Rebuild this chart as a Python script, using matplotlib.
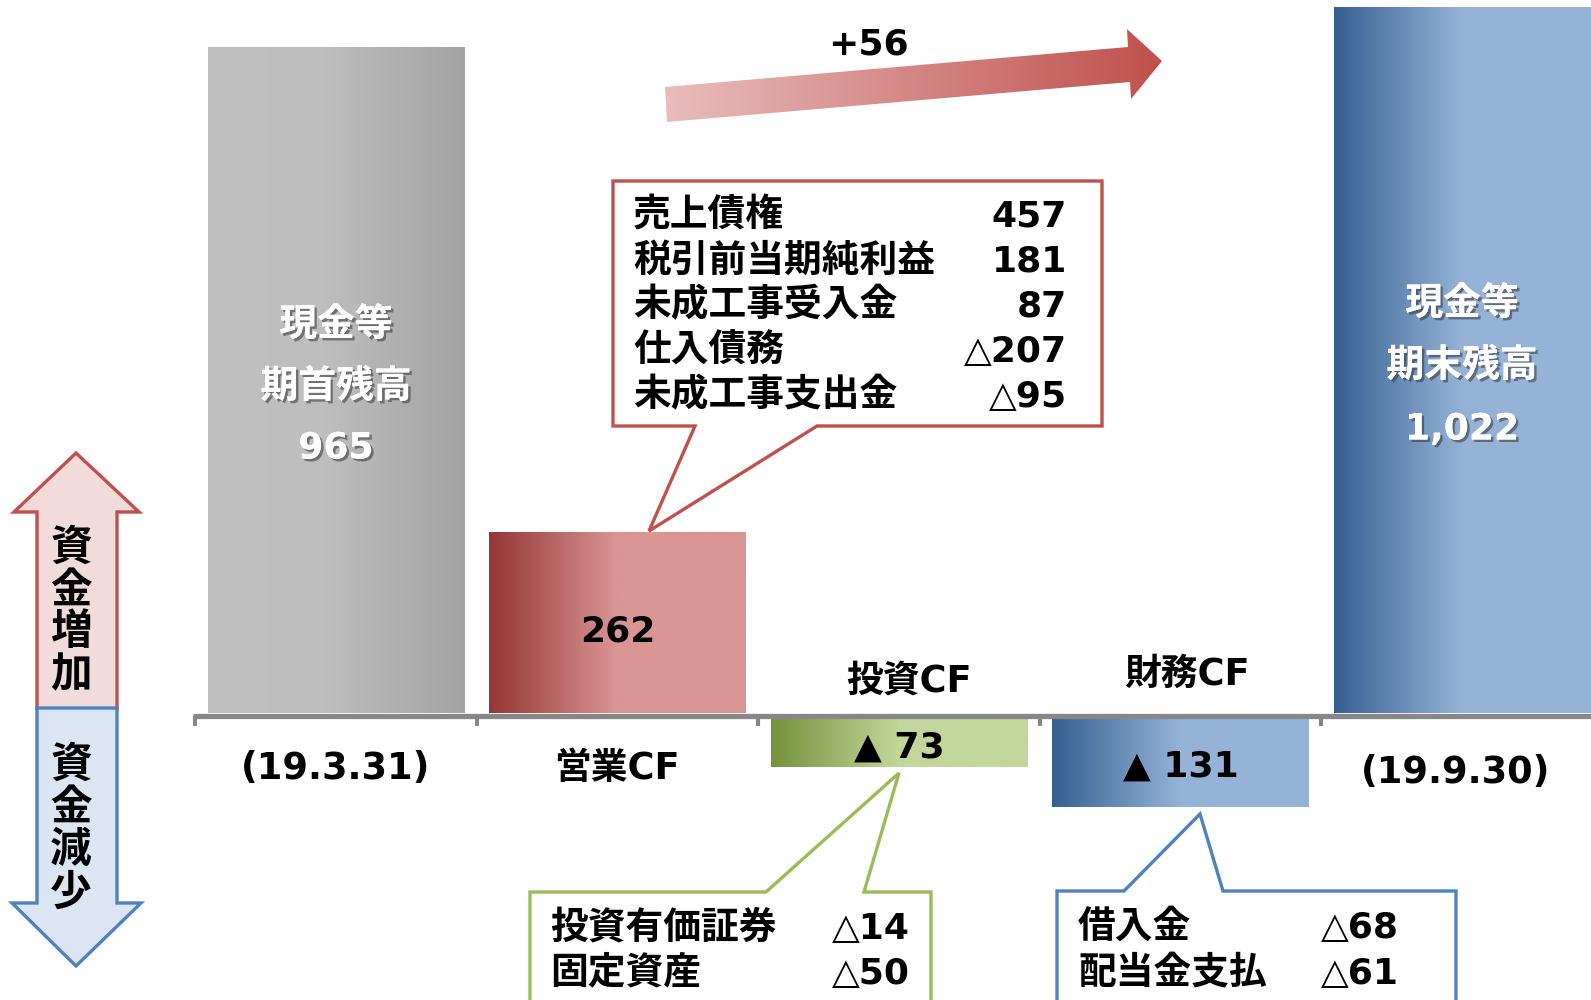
import matplotlib
matplotlib.use('Agg')
import matplotlib.pyplot as plt
import numpy as np
from matplotlib.patches import Polygon
from matplotlib.colors import LinearSegmentedColormap
import matplotlib.patheffects as pe

plt.rcParams['font.family'] = ['DejaVu Sans', 'Noto Sans CJK JP']

# ---------------- data ----------------
categories = ['(19.3.31)', '営業CF', '投資CF', '財務CF', '(19.9.30)']
values = [965, 262, -73, -131, 1022]
start_label = ['現金等', '期首残高', '965']
end_label = ['現金等', '期末残高', '1,022']
flow_labels = ['262', '▲ 73', '▲ 131']
change_label = '+56'

op_items = ['売上債権', '税引前当期純利益', '未成工事受入金', '仕入債務', '未成工事支出金']
op_vals = [457, 181, 87, -207, -95]
inv_items = ['投資有価証券', '固定資産']
inv_vals = [-14, -50]
fin_items = ['借入金', '配当金支払']
fin_vals = [-68, -61]

# ---------------- layout helpers ----------------
X0, XS = 336.0, 281.5      # px of category 0, px per category
Y0, YS = 713.0, 0.6906     # px of zero, px per unit
W, H = 1591, 1000
TDY = 3.5                  # text vertical nudge (px)


def X(px):
    return (px - X0) / XS


def Y(py):
    return (Y0 - py) / YS


def TY(py):
    return Y(py + TDY)


def P(pts):
    return [(X(a), Y(b)) for a, b in pts]


def fmt(v):
    return ('△' if v < 0 else '') + f'{abs(v):,}'


def fs(s):
    # CJK-only strings are set a touch larger to match the reference face
    return 27.2 if all(ord(c) > 0x2E80 for c in s) else 26


fig = plt.figure(figsize=(W / 100, H / 100), dpi=100)
ax = fig.add_axes([0, 0, 1, 1])
ax.axis('off')

grad_stops = [
    [(0, '#c0c0c0'), (0.45, '#bebebe'), (1, '#a3a3a3')],
    [(0, '#943634'), (0.5, '#d99694'), (1, '#d99694')],
    [(0, '#76923c'), (0.5, '#c3d69b'), (1, '#c3d69b')],
    [(0, '#366092'), (0.5, '#95b3d7'), (1, '#95b3d7')],
    [(0, '#366092'), (0.5, '#95b3d7'), (1, '#95b3d7')],
]


def grad_fill(patch, stops, zorder=2):
    cmap = LinearSegmentedColormap.from_list('g', stops)
    x0, y0 = patch.get_x(), patch.get_y()
    w, h = patch.get_width(), patch.get_height()
    ext = [x0, x0 + w, min(y0, y0 + h), max(y0, y0 + h)]
    img = ax.imshow(np.linspace(0, 1, 512)[None, :], cmap=cmap, extent=ext,
                    aspect='auto', zorder=zorder, interpolation='bilinear')
    img.set_clip_path(patch)


xs = np.arange(len(categories))
# negative bars hang from the underside of the axis line
bottoms = [0 if v > 0 else Y(717) for v in values]
bars = ax.bar(xs, values, bottom=bottoms, width=0.911, color='none', edgecolor='none', zorder=2)
for b, st in zip(bars, grad_stops):
    grad_fill(b, st)

# axis line and ticks
yl = Y(715.5)
ax.plot([X(193), X(W)], [yl, yl], color='#878787', lw=3.8, solid_capstyle='butt', zorder=3)
for t in xs - 0.5:
    ax.plot([t, t], [yl, Y(726)], color='#878787', lw=3.0, solid_capstyle='butt', zorder=3)

shadow = [pe.withSimplePatchShadow(offset=(1.8, -1.8), shadow_rgbFace='#333333', alpha=0.55), pe.Normal()]

# labels in start/end bars
for i, (lines, ys) in enumerate([(start_label, [322, 384, 445]), (end_label, [301, 363, 426])]):
    xi = xs[0] if i == 0 else xs[-1]
    for s, yy in zip(lines, ys):
        ax.text(xi, TY(yy), s, color='white', fontsize=fs(s), fontweight='bold',
                ha='center', va='center', path_effects=shadow, zorder=5)

# flow value labels
for s, xi, yy in zip(flow_labels, xs[1:4], [628, 744, 763]):
    ax.text(xi, TY(yy), s, fontsize=26, fontweight='bold', ha='center', va='center', zorder=5)

# category labels
cat_pos = [(0, 765), (-1, 765), (10, 678), (7, 671), (-6, 769)]
for s, xi, (dx, yy) in zip(categories, xs, cat_pos):
    ax.text(xi + dx / XS, TY(yy), s, fontsize=26.5, fontweight='bold', ha='center', va='center', zorder=5)

# top gradient arrow
arrow = Polygon(P([(665, 87), (1128, 47), (1127, 29), (1162, 61), (1131, 99), (1130, 82), (667, 122)]),
                closed=True, facecolor='none', edgecolor='none', zorder=2)
ax.add_patch(arrow)
cm_a = LinearSegmentedColormap.from_list('a', ['#e8bdbc', '#c0504d'])
img = ax.imshow(np.linspace(0, 1, 512)[None, :], cmap=cm_a,
                extent=[X(665), X(1162), Y(122), Y(29)], aspect='auto', zorder=2)
img.set_clip_path(arrow)
ax.text(X(868), TY(41), change_label, fontsize=26, fontweight='bold', ha='center', va='center', zorder=5)

# callouts
callouts = [
    (op_items, op_vals, '#c0504d',
     [(613, 181), (1102, 181), (1102, 426), (817, 426), (649, 531), (695, 426), (613, 426)],
     633, 1067, [213, 258, 303, 348, 393]),
    (inv_items, inv_vals, '#9bbb59',
     [(530, 892), (766, 892), (899, 773), (864, 892), (931, 892), (931, 1012), (530, 1012)],
     550, 910, [925, 970]),
    (fin_items, fin_vals, '#4f81bd',
     [(1057, 891), (1124, 891), (1200, 814), (1223, 891), (1456, 891), (1456, 1012), (1057, 1012)],
     1078, 1399, [924, 970]),
]
for items, vals, col, pts, lx, rx, ys in callouts:
    ax.add_patch(Polygon(P(pts), closed=True, facecolor='white', edgecolor=col,
                         lw=2.4, joinstyle='miter', zorder=4))
    for it, v, yy in zip(items, vals, ys):
        ax.text(X(lx), TY(yy), it, fontsize=fs(it), fontweight='bold', ha='left', va='center', zorder=5)
        ax.text(X(rx), TY(yy), fmt(v), fontsize=26, fontweight='bold', ha='right', va='center', zorder=5)

# left double arrow
up = Polygon(P([(37, 709), (37, 512), (14, 512), (76, 453), (139, 512), (117, 512), (117, 709)]),
             closed=True, facecolor='#f2dcdb', edgecolor='#c0504d', lw=2.4, joinstyle='miter', zorder=4)
down = Polygon(P([(37, 708), (37, 903), (12, 903), (76, 966), (141, 903), (117, 903), (117, 708)]),
               closed=True, facecolor='#dce6f2', edgecolor='#4f81bd', lw=2.4, joinstyle='miter', zorder=4)
ax.add_patch(up)
ax.add_patch(down)
for ch, yy in zip('資金増加', [544, 587, 629, 672]):
    ax.text(X(71), TY(yy), ch, fontsize=30, fontweight='bold', ha='center', va='center', zorder=5)
for ch, yy in zip('資金減少', [761, 804, 846, 889]):
    ax.text(X(71), TY(yy), ch, fontsize=30, fontweight='bold', ha='center', va='center', zorder=5)

ax.set_xlim(X(0), X(W))
ax.set_ylim(Y(H), Y(0))
fig.savefig('out.png', dpi=100, facecolor='white')
